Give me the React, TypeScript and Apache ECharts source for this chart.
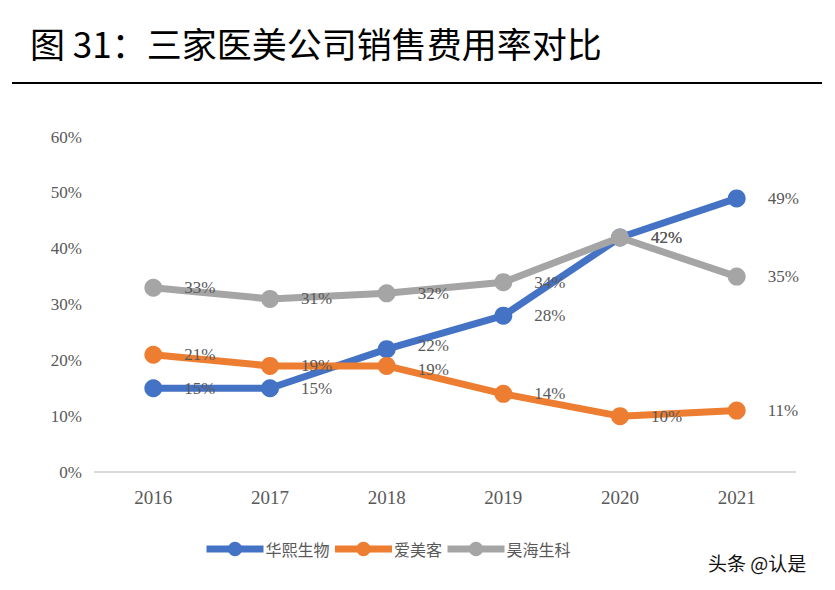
import React, { useEffect, useRef } from "react";
import * as echarts from "echarts";

const categories = ["2016", "2017", "2018", "2019", "2020", "2021"];
const huaxi = [15, 15, 22, 28, 42, 49];
const aimeike = [21, 19, 19, 14, 10, 11];
const haohai = [33, 31, 32, 34, 42, 35];
const seriesNames = ["华熙生物", "爱美客", "昊海生科"];
const colors = ["#4472C4", "#ED7D31", "#A5A5A5"];
const title = "图 31：三家医美公司销售费用率对比";
const watermark = "头条 @认是";

export default function App() {
  const ref = useRef<HTMLDivElement>(null);
  useEffect(() => {
    document.body.style.margin = "0";
    const chart = echarts.init(ref.current!, null, { renderer: "svg" });
    const datasets = [huaxi, aimeike, haohai];
    const labelFont = {
      fontFamily: "Liberation Serif",
      fontSize: 17,
      color: "#595959",
    };
    // vertical nudges (px) of a few data labels, keyed by series index and point index
    const nudges: Record<string, number> = { "0-2": -4, "1-2": 4 };
    chart.setOption({
      animation: false,
      backgroundColor: "#ffffff",
      graphic: [
        {
          type: "text",
          left: 30,
          top: 25,
          style: {
            text: title,
            fontFamily: "Noto Sans CJK SC",
            fontSize: 35,
            fontWeight: "normal",
            fill: "#000000",
          },
        },
        {
          type: "line",
          shape: { x1: 12, y1: 83, x2: 822, y2: 83 },
          style: { stroke: "#000000", lineWidth: 2 },
        },
        {
          type: "text",
          left: 708,
          top: 553,
          style: {
            text: watermark,
            fontFamily: "Noto Sans CJK SC",
            fontSize: 19,
            fill: "#111111",
          },
        },
      ],
      grid: { left: 95, right: 40, top: 137, bottom: 118 },
      legend: {
        left: 198,
        top: 536,
        itemWidth: 57,
        itemHeight: 18,
        itemGap: 2,
        lineStyle: { width: 7 },
        textStyle: {
          fontFamily: "Noto Sans CJK SC",
          fontSize: 16,
          color: "#595959",
          padding: [0, 0, 0, -3],
        },
        data: seriesNames,
      },
      xAxis: {
        type: "category",
        data: categories,
        boundaryGap: true,
        axisLine: { lineStyle: { color: "#D9D9D9", width: 2 } },
        axisTick: { show: false },
        axisLabel: { ...labelFont, fontSize: 19, margin: 16 },
      },
      yAxis: {
        type: "value",
        min: 0,
        max: 60,
        interval: 10,
        splitLine: { show: false },
        axisLine: { show: false },
        axisTick: { show: false },
        axisLabel: { ...labelFont, formatter: "{value}%", margin: 13 },
      },
      series: datasets.map((d, i) => ({
        name: seriesNames[i],
        type: "line",
        data: d,
        symbol: "circle",
        symbolSize: 18,
        color: colors[i],
        lineStyle: { width: 7, color: colors[i] },
        itemStyle: { color: colors[i] },
        label: {
          show: true,
          position: "right",
          distance: 22,
          offset: [0, 2],
          formatter: "{c}%",
          ...labelFont,
        },
        labelLayout: (p: any) => {
          const n = nudges[`${i}-${p.dataIndex}`];
          return { hideOverlap: false, dy: n === undefined ? 0 : n };
        },
        z: 2 + (i === 2 ? 1 : 0),
      })),
    });
    return () => chart.dispose();
  }, []);
  return (
    <div
      ref={ref}
      style={{ position: "absolute", left: 0, top: 0, width: 835, height: 590 }}
    />
  );
}
